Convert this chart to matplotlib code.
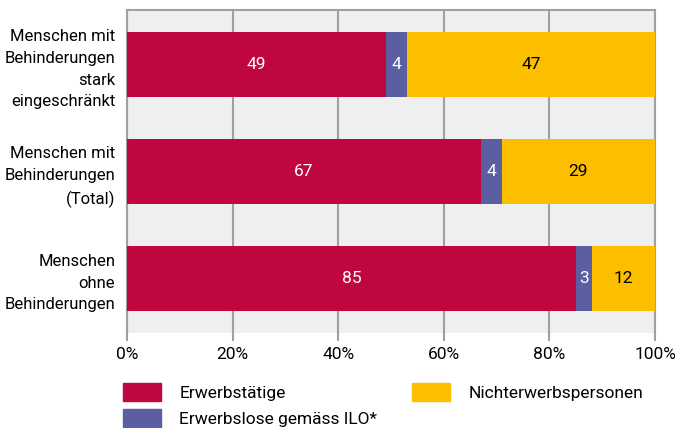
import numpy as np
import matplotlib
matplotlib.use("Agg")
import matplotlib.pyplot as plt
from matplotlib.patches import Patch

plt.rcParams['font.family'] = ['Roboto', 'DejaVu Sans']

# data
groups = ["Menschen mit\nBehinderungen\nstark\neingeschränkt",
          "Menschen mit\nBehinderungen\n(Total)",
          "Menschen\nohne\nBehinderungen"]
erwerbstaetige = [49, 67, 85]
erwerbslose = [4, 4, 3]
nichterwerb = [47, 29, 12]
series_names = ["Erwerbstätige", "Erwerbslose gemäss ILO*", "Nichterwerbspersonen"]
colors = ["#c0063f", "#5b5fa1", "#fcbf00"]
text_colors = ["white", "white", "black"]
ticks = [0, 20, 40, 60, 80, 100]

fig = plt.figure(figsize=(6.75, 4.28), dpi=100)
ax = fig.add_axes([127/675, 1 - 333/428, (655-127)/675, (333-10)/428])
ax.set_facecolor("#efefef")

y = np.arange(len(groups))
left = np.zeros(len(groups))
for vals, c, tc in zip([erwerbstaetige, erwerbslose, nichterwerb], colors, text_colors):
    bars = ax.barh(y, vals, left=left, height=0.61, color=c, zorder=3)
    for b, v in zip(bars, vals):
        ax.text(b.get_x() + b.get_width()/2, b.get_y() + b.get_height()/2, str(v),
                ha="center", va="center", color=tc, fontsize=12.5, zorder=4)
    left += np.array(vals)

ax.set_xlim(0, 100)
ax.set_ylim(2.51, -0.51)
ax.set_xticks(ticks)
ax.set_xticklabels([f"{t}%" for t in ticks], fontsize=12.5)
ax.set_yticks(y)
ax.set_yticklabels(groups, fontsize=12, linespacing=1.55, ha="right")
ax.tick_params(axis="y", length=0, pad=8.5)
ax.tick_params(axis="x", length=6, color="#a0a0a0", width=1.5, pad=4)
ax.xaxis.grid(True, color="#a0a0a0", linewidth=1.5, zorder=1)
for s in ax.spines.values():
    s.set_color("#a0a0a0")
    s.set_linewidth(1.5)
ax.spines["bottom"].set_visible(False)

handles = [Patch(color=c) for c in colors]
fig.legend(handles, series_names,
           loc="upper left", bbox_to_anchor=(116/675, 1 - 376/428), ncol=2,
           frameon=False, fontsize=12.5, handlelength=2.2, handleheight=1.25,
           columnspacing=2.0, handletextpad=1.05, labelspacing=0.45,
           borderaxespad=0)

fig.savefig("out.png", dpi=100)
